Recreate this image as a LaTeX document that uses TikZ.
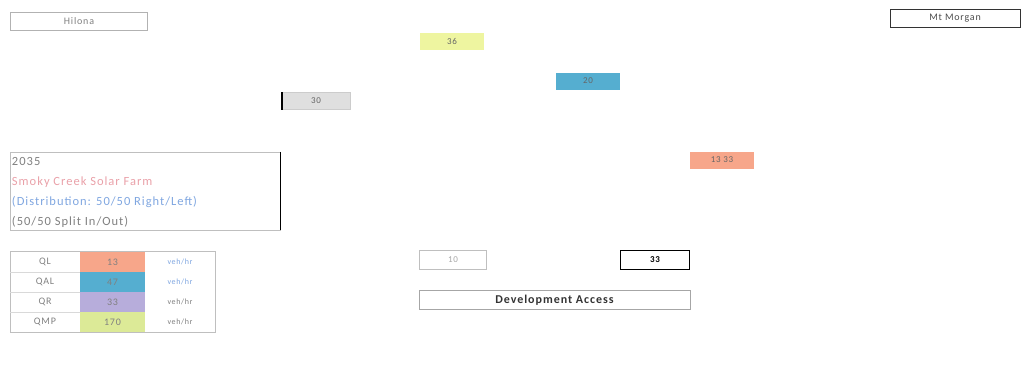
\documentclass[tikz,border=0pt]{standalone}
\usepackage{fontspec}
\setmainfont{Carlito}
\newfontfamily\scanfont[LetterSpace=8]{Carlito}
\definecolor{qlcol}{HTML}{F7A68A}
\definecolor{qalcol}{HTML}{55AED0}
\definecolor{qrcol}{HTML}{B7ADDB}
\definecolor{qmpcol}{HTML}{DCEA97}
\definecolor{yelcol}{HTML}{EEF5A0}
\definecolor{txtblue}{HTML}{7FA6E0}
\definecolor{txtred}{HTML}{E9A0A8}
\begin{document}
\begin{tikzpicture}[x=1pt, y=-1pt,
    label_box/.style={draw=gray!60, minimum height=18pt, inner sep=0pt, font=\scanfont\fontsize{10}{11}\selectfont, text=gray},
    vol_box/.style={minimum width=64pt, minimum height=17pt, inner sep=0pt, font=\scanfont\fontsize{9}{10}\selectfont, text=gray!80!black},
    cell_style/.style={minimum width=65pt, minimum height=19.5pt, inner sep=0pt, font=\scanfont\fontsize{10}{11}\selectfont, text=gray}
]
\useasboundingbox (0,0) rectangle (1024,378);
% place names
\node[label_box, minimum width=137pt] (ribbon) at (79,21) {Hilona};
\node[label_box, draw=black!80, minimum width=130pt, text=black!70] (morgan) at (955,18) {Mt Morgan};
% volumes on the map
\node[vol_box, fill=yelcol] (v36) at (452,41) {36};
\node[vol_box, fill=qalcol] (v20) at (588,81) {20};
\node[vol_box, fill=gray!25, draw=gray!40, minimum width=68pt] (v30) at (316,101) {30};
\draw[line width=1.5pt] (v30.north west) -- (v30.south west);
\node[vol_box, fill=qlcol] (v13) at (722,160) {13 33};
% legend text
\node[draw=gray!50, minimum width=270pt, minimum height=78pt, inner sep=0pt] (info) at (145,191) {};
\draw[line width=1.2pt] (info.north east) -- (info.south east);
\node[anchor=north west, align=left, inner sep=2pt, yshift=-3pt, font=\scanfont\fontsize{12.5}{20}\selectfont] (infotxt) at (info.north west) {%
    \textcolor{gray}{2035}\\
    \textcolor{txtred}{Smoky Creek Solar Farm}\\
    \textcolor{txtblue}{(Distribution: 50/50 Right/Left)}\\
    \textcolor{gray}{(50/50 Split In/Out)}};
% volume table
\node[draw=gray!50, minimum width=205pt, minimum height=81pt, inner sep=0pt] (tab) at (112.5,292) {};
\foreach \n/\lab/\val/\col/\unit [count=\r from 0] in {ql/QL/13/qlcol/txtblue, qal/QAL/47/qalcol/txtblue, qr/QR/33/qrcol/gray, qmp/QMP/170/qmpcol/gray} {
    \node[cell_style, minimum width=70pt] (\n lab) at (45,{262+\r*20}) {\lab};
    \node[cell_style, fill=\col] (\n val) at (112.5,{262+\r*20}) {\val};
    \node[cell_style, minimum width=70pt, text=\unit, font=\scanfont\fontsize{8}{9}\selectfont] (\n unit) at (180,{262+\r*20}) {veh/hr};
}
\foreach \r in {1,2,3} {
    \draw[gray!30] (10,{252+\r*20}) -- (80,{252+\r*20});
}
% access volumes
\node[vol_box, draw=gray!50, fill=none, minimum width=67pt, minimum height=19pt, text=gray!70] (in10) at (453,260) {10};
\node[vol_box, draw=black, fill=none, minimum width=69pt, minimum height=19pt, text=black, line width=0.8pt, font=\scanfont\bfseries\fontsize{9}{10}\selectfont] (out33) at (655,260) {33};
\node[label_box, draw=gray!70, minimum width=271pt, minimum height=19pt, text=black!80, font=\scanfont\bfseries\fontsize{12}{13}\selectfont] (access) at (554.5,300) {Development Access};
\end{tikzpicture}
\end{document}
